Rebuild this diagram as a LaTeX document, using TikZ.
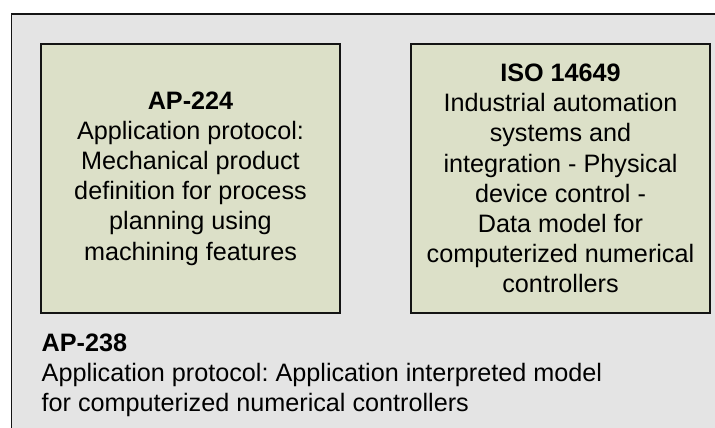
\documentclass[tikz,border=0pt]{standalone}
\usepackage{fontspec}
\setmainfont{Liberation Sans}
\frenchspacing
\definecolor{outerfill}{RGB}{228,228,228}
\definecolor{boxfill}{RGB}{220,224,200}
\definecolor{edge}{RGB}{20,20,20}
\begin{document}
\begin{tikzpicture}[x=1pt,y=1pt,
  txt/.style={font=\fontsize{25.2}{30.2}\selectfont, text=black},
  stdbox/.style={txt, draw=edge, line width=2pt, fill=boxfill, align=center,
    minimum width=299pt, minimum height=269pt, inner sep=0pt}]
\useasboundingbox (0,0) rectangle (715,428);
\fill[white] (0,0) rectangle (715,428);
\begin{scope}
\clip (0,0) rectangle (715,428);
\draw[draw=edge, line width=1.5pt, fill=outerfill] (11.5,-10) rectangle (730,414);
\end{scope}
\node[stdbox] (ap224) at (190.5,249.5) {\textbf{AP-224}\\Application protocol:\\Mechanical product\\definition for process\\planning using\\machining features};
\node[stdbox] (iso) at (560.5,249.5) {\textbf{ISO 14649}\\Industrial automation\\systems and\\integration - Physical\\device control -\\Data model for\\computerized numerical\\controllers};
\node[txt, anchor=base west, align=left, inner sep=0pt] (ap238) at (41.5,16.3) {\textbf{AP-238}\\Application protocol: Application interpreted model\\for computerized numerical controllers};
\end{tikzpicture}
\end{document}
